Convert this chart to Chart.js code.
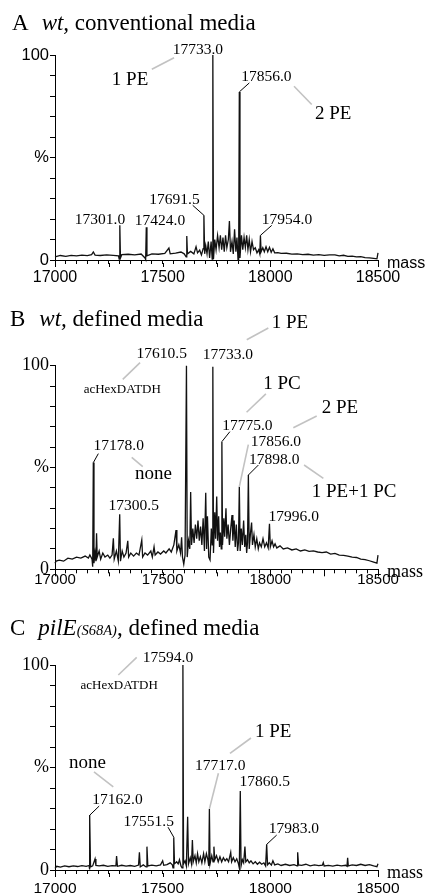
<!DOCTYPE html>
<html>
<head>
<meta charset="utf-8">
<script src="https://cdn.jsdelivr.net/npm/chart.js@4.4.1/dist/chart.umd.min.js"></script>
<style>
  body { margin: 0; background: #fff; }
  #wrap { position: relative; width: 427px; height: 894px; overflow: hidden; }
  canvas { position: absolute; left: 0; }
  .ttl { position: absolute; font-family: "Liberation Serif", "Times New Roman", serif; font-size: 23px; line-height: 1; white-space: nowrap; color: #000; }
  .ttl i { font-style: italic; }
  .ttl .sm { font-size: 14.5px; font-style: italic; }
</style>
</head>
<body>
<div id="wrap">
  <canvas id="cA" width="427" height="290" style="top:0"></canvas>
  <canvas id="cB" width="427" height="300" style="top:290px"></canvas>
  <canvas id="cC" width="427" height="304" style="top:590px"></canvas>
  <div class="ttl" style="left:12px;top:10.7px">A<i style="margin-left:13px">wt,</i> conventional media</div>
  <div class="ttl" style="left:10px;top:307.4px">B<i style="margin-left:14px">wt,</i> defined media</div>
  <div class="ttl" style="left:10px;top:615.7px">C<i style="margin-left:13px">pilE</i><span class="sm">(S68A)</span>, defined media</div>
</div>
<script>
// Spectra: [mass, relative intensity %]
const specA = [
  [17000, 1.5], [17025, 2.2], [17050, 1.8], [17075, 2.3], [17100, 2.0], [17125, 2.4], [17150, 2.1],
  [17170, 2.6], [17178, 3.9], [17186, 2.4], [17210, 2.2], [17240, 2.5], [17270, 2.3], [17295, 2.0],
  [17298, 0.5], [17301, 17], [17304, 1.0], [17310, 2.6], [17340, 2.8], [17370, 2.5], [17400, 2.9],
  [17418, 1.0], [17421, 0.3], [17424, 16], [17427, 2.0], [17450, 3.0], [17480, 2.8], [17510, 3.2],
  [17529, 5.8], [17535, 3.0], [17560, 3.4], [17585, 3.9], [17600, 3.0], [17609, 1.5], [17612, 11.7],
  [17615, 3.0], [17630, 4.2], [17645, 3.0], [17655, 6.5], [17662, 3.5], [17672, 4.8], [17680, 2.5],
  [17688, 5.5], [17691.5, 21.8], [17695, 3], [17700, 7], [17706, 3], [17712, 9], [17718, 1],
  [17725, 9], [17730, 0.5], [17733, 100], [17736, 0.5], [17742, 10], [17748, 5], [17755, 12],
  [17762, 6], [17768, 12], [17774, 5], [17780, 11], [17786, 4], [17792, 12], [17798, 6], [17805, 10],
  [17810, 19], [17815, 4], [17822, 9], [17828, 3], [17834, 15], [17840, 4], [17845, 11], [17850, 0],
  [17853, 3], [17856, 82], [17859, 1], [17866, 12], [17872, 5], [17878, 11], [17884, 6], [17890, 12],
  [17896, 5], [17902, 10], [17908, 4], [17915, 9], [17922, 5], [17930, 6], [17938, 3.5], [17946, 5],
  [17951, 3], [17954, 12], [17957, 4], [17965, 6], [17972, 4], [17980, 6.5], [17988, 4], [17996, 6.2],
  [18004, 3.8], [18012, 5.5], [18020, 3.5], [18035, 3.6], [18050, 3.2], [18075, 3.3], [18100, 2.9],
  [18125, 3.0], [18150, 2.6], [18175, 2.8], [18200, 2.4], [18225, 2.6], [18250, 2.3], [18275, 2.5],
  [18300, 2.5], [18320, 2.0], [18340, 2.3], [18360, 1.8], [18380, 1.9], [18400, 1.5], [18420, 1.6],
  [18440, 1.2], [18460, 1.0], [18480, 0.8], [18495, 0.6], [18500, 3.5]
];

const specB = [
  [17000, 3], [17005, 4], [17020, 4.5], [17040, 4], [17060, 5.5], [17080, 5], [17100, 6], [17120, 5.5],
  [17140, 6.5], [17155, 5.5], [17162, 7], [17172, 5], [17175, 1.3], [17178, 52.4], [17181, 3],
  [17186, 8], [17190, 4], [17193, 17.7], [17196, 6], [17205, 9], [17212, 5], [17222, 8], [17232, 6],
  [17245, 7], [17255, 5.5], [17265, 7], [17271, 15.2], [17275, 5], [17285, 9], [17294, 4],
  [17300.5, 27], [17304, 4], [17312, 9], [17320, 6], [17330, 8], [17338, 14], [17342, 6], [17352, 8],
  [17365, 6.5], [17378, 8], [17390, 7], [17403, 14.4], [17407, 6], [17418, 8], [17430, 7], [17445, 9],
  [17452, 6], [17460, 11], [17465, 7], [17478, 8.5], [17490, 7.5], [17505, 9], [17515, 8], [17530, 10],
  [17540, 8.5], [17552, 12], [17562, 19.3], [17566, 9], [17575, 12], [17583, 8], [17588, 15.7],
  [17592, 6], [17598, 2.5], [17604, 7], [17610.5, 100], [17614, 6], [17620, 14], [17626, 10],
  [17630, 38], [17634, 12], [17640, 20], [17646, 13], [17652, 22], [17658, 15], [17664, 24],
  [17670, 14], [17676, 21], [17682, 12], [17688, 25], [17694, 9], [17700, 37.6], [17704, 10],
  [17708, 26], [17714, 6], [17720, 4.6], [17726, 20], [17730, 12], [17733, 99.5], [17736, 8],
  [17742, 28], [17746, 15], [17751, 35.7], [17755, 14], [17760, 26], [17764, 11], [17768, 18],
  [17772, 10], [17775, 62.7], [17778, 12], [17784, 25], [17788, 16], [17794, 30], [17798, 15],
  [17804, 22], [17810, 12], [17816, 20], [17822, 26.7], [17826, 14], [17832, 24], [17837, 11],
  [17842, 22], [17848, 9], [17852, 13], [17856, 40.6], [17860, 9], [17865, 20], [17870, 12],
  [17876, 24], [17881, 11], [17886, 17], [17890, 8], [17894, 13], [17898, 46.3], [17902, 10],
  [17908, 18], [17913, 23], [17917, 12], [17924, 17], [17930, 11], [17937, 15], [17944, 10],
  [17950, 13], [17958, 11], [17966, 15], [17974, 11], [17982, 13], [17990, 10.5], [17996, 22.3],
  [18000, 11], [18008, 14], [18015, 11], [18022, 12.5], [18030, 10.5], [18045, 11.5], [18060, 10],
  [18080, 10.5], [18100, 9.5], [18120, 10], [18140, 9], [18160, 9.5], [18180, 8.8], [18200, 9],
  [18220, 8.5], [18240, 8.2], [18260, 8.5], [18280, 7.5], [18300, 7.8], [18320, 7], [18340, 6.8],
  [18360, 6.5], [18380, 6], [18400, 5.8], [18420, 5], [18440, 4.8], [18460, 4.2], [18480, 3.5],
  [18495, 3], [18500, 7]
];

const specC = [
  [17000, 0.8], [17008, 1.8], [17025, 1.4], [17045, 2], [17065, 1.6], [17085, 2], [17105, 1.7],
  [17125, 2.1], [17145, 1.8], [17158, 2.2], [17160, 0.3], [17162, 26.8], [17165, 1.5], [17175, 2],
  [17186, 5.4], [17190, 2.2], [17205, 2], [17225, 2.3], [17245, 1.8], [17265, 2.1], [17283, 2],
  [17286, 6.8], [17290, 1.8], [17310, 2.3], [17330, 1.9], [17350, 2.2], [17370, 1.8], [17388, 2.4],
  [17392, 8.6], [17396, 1.5], [17410, 2.5], [17423, 1.5], [17427, 11.4], [17431, 2], [17450, 2.4],
  [17470, 2], [17490, 2.5], [17500, 4.5], [17505, 2.3], [17520, 2.6], [17535, 3.5], [17545, 2.5],
  [17548, 1], [17551.5, 16], [17555, 3], [17565, 4], [17572, 3], [17578, 5], [17585, 2], [17590, 1],
  [17594, 100], [17597, 3], [17604, 4.5], [17610, 2], [17616, 26], [17620, 3], [17628, 6], [17634, 3],
  [17638, 14.6], [17642, 4], [17650, 7], [17656, 3.5], [17662, 8], [17668, 4], [17675, 6.5],
  [17682, 3.5], [17690, 8], [17696, 4], [17703, 8], [17710, 5], [17714, 2], [17717, 29.8], [17720, 3],
  [17728, 7], [17734, 4], [17738, 11.4], [17742, 5], [17750, 7], [17758, 4], [17766, 6.5], [17774, 4],
  [17782, 6], [17790, 4.5], [17798, 5.5], [17806, 4], [17816, 8.6], [17820, 4], [17828, 6], [17836, 4],
  [17844, 5.5], [17852, 3], [17856, 1], [17860.5, 38.5], [17864, 2], [17870, 5], [17876, 3.5],
  [17882, 11.4], [17886, 4], [17894, 5], [17902, 3.5], [17910, 4.5], [17920, 3], [17930, 4],
  [17940, 2.8], [17950, 3.8], [17960, 2.8], [17970, 3.5], [17978, 2], [17983, 12.5], [17987, 2.5],
  [17995, 3.5], [18005, 2.4], [18012, 4.5], [18020, 2.5], [18035, 3], [18050, 2.2], [18070, 2.8],
  [18090, 2.2], [18110, 2.6], [18124, 2], [18127, 8.6], [18131, 2.5], [18145, 2.3], [18165, 2.8],
  [18185, 2], [18205, 2.5], [18225, 2.1], [18242, 2.4], [18246, 3.6], [18250, 2], [18270, 2.3],
  [18290, 1.9], [18310, 2.4], [18330, 2], [18350, 2.3], [18356, 1.8], [18359, 6], [18362, 2],
  [18380, 2.5], [18400, 2.2], [18420, 2.8], [18440, 2.2], [18460, 2.6], [18480, 2], [18495, 1.6],
  [18500, 3]
];

// Axis ticks
const xTicks = [];
for (let v = 17000; v <= 18500; v += 50) xTicks.push(v);
const xLabels = [17000, 17500, 18000, 18500];
const yTicks = [0, 10, 20, 30, 40, 50, 60, 70, 80, 90, 100];

// Peak labels: offsets in px from the peak top
const peaksA = [
  { m: 17733, t: '17733.0', dx: -15, dy: -1.5 },
  { m: 17856, t: '17856.0', dx: 27, dy: -10.7, ln: [0, 0, 10, -9] },
  { m: 17691.5, t: '17691.5', dx: -29.4, dy: -11.7, ln: [0, 0, -11.2, -10] },
  { m: 17301, t: '17301.0', dx: -19.8, dy: -1 },
  { m: 17424, t: '17424.0', dx: 13.7, dy: -2.7 },
  { m: 17954, t: '17954.0', dx: 26.6, dy: -11, ln: [0, 0, 11.3, -10] }
];
const notesA = [
  { m: 17733, t: '1 PE', dx: -101, dy: 30, ln: [-61, 14.3, -38.8, 2.7] },
  { m: 17856, t: '2 PE', dx: 75.7, dy: 27, ln: [54.7, -5.7, 72.4, 12.6] }
];

const peaksB = [
  { m: 17610.5, t: '17610.5', dx: -24.7, dy: -7.4 },
  { m: 17733, t: '17733.0', dx: 15, dy: -7.7 },
  { m: 17775, t: '17775.0', dx: 25.5, dy: -11.7, ln: [0, 0, 8, -10] },
  { m: 17856, t: '17856.0', dx: 36.5, dy: -40.6, ln: [0, 0, 9, -42], grey: true },
  { m: 17898, t: '17898.0', dx: 25.9, dy: -11, ln: [0, 0, 10, -10] },
  { m: 17178, t: '17178.0', dx: 25.4, dy: -12.6, ln: [0, 0, 5, -9] },
  { m: 17300.5, t: '17300.5', dx: 14.1, dy: -4 },
  { m: 17996, t: '17996.0', dx: 24.3, dy: -3.3 }
];
const notesB = [
  { m: 17610.5, t: 'acHexDATDH', dx: -64.2, dy: 27.6, ln: [-63.7, 13.6, -46.4, -3], small: true },
  { m: 17733, t: '1 PE', dx: 58.9, dy: -38.3, ln: [33.9, -27, 55.5, -38.7] },
  { m: 17775, t: '1 PC', dx: 41.3, dy: -52.4, ln: [24.7, -29.4, 44, -47.7] },
  { m: 17856, t: '2 PE', dx: 82.4, dy: -73.3, ln: [54, -58.9, 77.4, -70.6] },
  { m: 17898, t: '1 PE+1 PC', dx: 63.4, dy: 21.7, ln: [55.7, -10, 75, 3.3] },
  { m: 17178, t: 'none', dx: 41.7, dy: 16.7, ln: [38.4, -5.3, 49.4, 4.1] }
];

const peaksC = [
  { m: 17594, t: '17594.0', dx: -14.9, dy: -3.3 },
  { m: 17717, t: '17717.0', dx: 10.8, dy: -38.9, ln: [0, 0, 9, -35.6], grey: true },
  { m: 17860.5, t: '17860.5', dx: 24.4, dy: -5.3 },
  { m: 17162, t: '17162.0', dx: 27.6, dy: -10.7, ln: [0, 0, 9.3, -9] },
  { m: 17551.5, t: '17551.5', dx: -25, dy: -11.2, ln: [0, 0, -5.7, -10] },
  { m: 17983, t: '17983.0', dx: 27.2, dy: -11, ln: [0, 0, 10, -9.3] }
];
const notesC = [
  { m: 17594, t: 'acHexDATDH', dx: -63.7, dy: 24, ln: [-64.6, 10, -46.2, -7.7], small: true },
  { m: 17717, t: '1 PE', dx: 45.6, dy: -72.2, ln: [20.6, -55.6, 41.6, -70.9] },
  { m: 17162, t: 'none', dx: -20.9, dy: -46.7, ln: [4.1, -43.3, 23.4, -28.3] }
];

const SERIF = '"Liberation Serif", "Times New Roman", serif';
const SANS = '"Liberation Sans", Arial, sans-serif';
const GREY = '#c2c2c2';

function line(ctx, x1, y1, x2, y2) {
  ctx.beginPath();
  ctx.moveTo(x1, y1);
  ctx.lineTo(x2, y2);
  ctx.stroke();
}

// Draws peak labels, leader lines, long ticks and the "mass" axis name
function annotPlugin(spec, peaks, notes, massFont) {
  return {
    id: 'annot',
    afterDraw(chart) {
      const { ctx, chartArea: a, scales: { x, y } } = chart;
      const top = m => {
        const d = spec.find(p => p[0] === m);
        return [x.getPixelForValue(m), y.getPixelForValue(d[1])];
      };
      ctx.save();
      ctx.strokeStyle = '#000';
      ctx.lineWidth = 1;
      for (let v = 17000; v <= 18500; v += 250) {
        const px = Math.round(x.getPixelForValue(v)) + 0.5;
        line(ctx, px, a.bottom + 3, px, a.bottom + 7);
      }

      ctx.fillStyle = '#000';
      ctx.textBaseline = 'alphabetic';
      peaks.forEach(p => {
        const [px, py] = top(p.m);
        if (p.ln) {
          ctx.strokeStyle = p.grey ? GREY : '#000';
          ctx.lineWidth = p.grey ? 1.6 : 1;
          line(ctx, px + p.ln[0], py + p.ln[1], px + p.ln[2], py + p.ln[3]);
        }
        ctx.font = '15.5px ' + SERIF;
        ctx.textAlign = 'center';
        ctx.fillText(p.t, px + p.dx, py + p.dy);
      });

      notes.forEach(n => {
        const [px, py] = top(n.m);
        ctx.strokeStyle = GREY;
        ctx.lineWidth = 1.6;
        line(ctx, px + n.ln[0], py + n.ln[1], px + n.ln[2], py + n.ln[3]);
        ctx.font = (n.small ? '13px ' : '19px ') + SERIF;
        ctx.textAlign = n.small ? 'center' : 'left';
        ctx.fillText(n.t, px + n.dx, py + n.dy);
      });

      ctx.font = massFont;
      ctx.textAlign = 'left';
      ctx.fillText('mass', a.right + 9, a.bottom + 8);
      ctx.restore();
    }
  };
}

function build(id, spec, peaks, notes, o) {
  new Chart(document.getElementById(id), {
    type: 'line',
    data: {
      datasets: [{
        data: spec.map(([m, v]) => ({ x: m, y: v })),
        borderColor: '#111',
        borderWidth: 1.3,
        pointRadius: 0,
        tension: 0,
        fill: false,
        clip: false
      }]
    },
    options: {
      responsive: false,
      animation: false,
      devicePixelRatio: 1,
      layout: { padding: { left: 0, right: 49, top: o.top, bottom: 0 } },
      plugins: { legend: { display: false }, tooltip: { enabled: false } },
      scales: {
        x: {
          type: 'linear',
          min: 17000,
          max: 18500,
          afterBuildTicks: s => { s.ticks = xTicks.map(v => ({ value: v })); },
          afterFit: s => { s.height = o.axisH; },
          ticks: {
            autoSkip: false, maxRotation: 0, minRotation: 0, padding: o.xPad, color: '#000',
            font: { family: o.xFam, size: o.xSize },
            callback: v => xLabels.includes(v) ? String(v) : ''
          },
          grid: { drawOnChartArea: false, tickLength: 4, tickColor: '#000', tickWidth: 1 },
          border: { color: '#000', width: 1 }
        },
        y: {
          min: 0,
          max: 100,
          afterBuildTicks: s => { s.ticks = yTicks.map(v => ({ value: v })); },
          afterFit: s => { s.width = 55; },
          ticks: {
            autoSkip: false, padding: 1, color: '#000',
            font: { family: o.yFam, size: o.ySize },
            callback: v => v === 0 ? '0' : v === 50 ? '%' : v === 100 ? '100' : ''
          },
          grid: { drawOnChartArea: false, tickLength: 5, tickColor: '#000', tickWidth: 1 },
          border: { color: '#000', width: 1 }
        }
      }
    },
    plugins: [annotPlugin(spec, peaks, notes, o.massFont)]
  });
}

build('cA', specA, peaksA, notesA, {
  top: 55, axisH: 30,
  xFam: SANS, xSize: 16, xPad: 4, yFam: SANS, ySize: 16.5, massFont: '16px ' + SANS
});
build('cB', specB, peaksB, notesB, {
  top: 75.7, axisH: 20.7,
  xFam: SANS, xSize: 15, xPad: -2, yFam: SERIF, ySize: 18, massFont: '18px ' + SERIF
});
build('cC', specC, peaksC, notesC, {
  top: 75, axisH: 24,
  xFam: SANS, xSize: 15.5, xPad: 5.5, yFam: SERIF, ySize: 18, massFont: '18px ' + SERIF
});
</script>
</body>
</html>
